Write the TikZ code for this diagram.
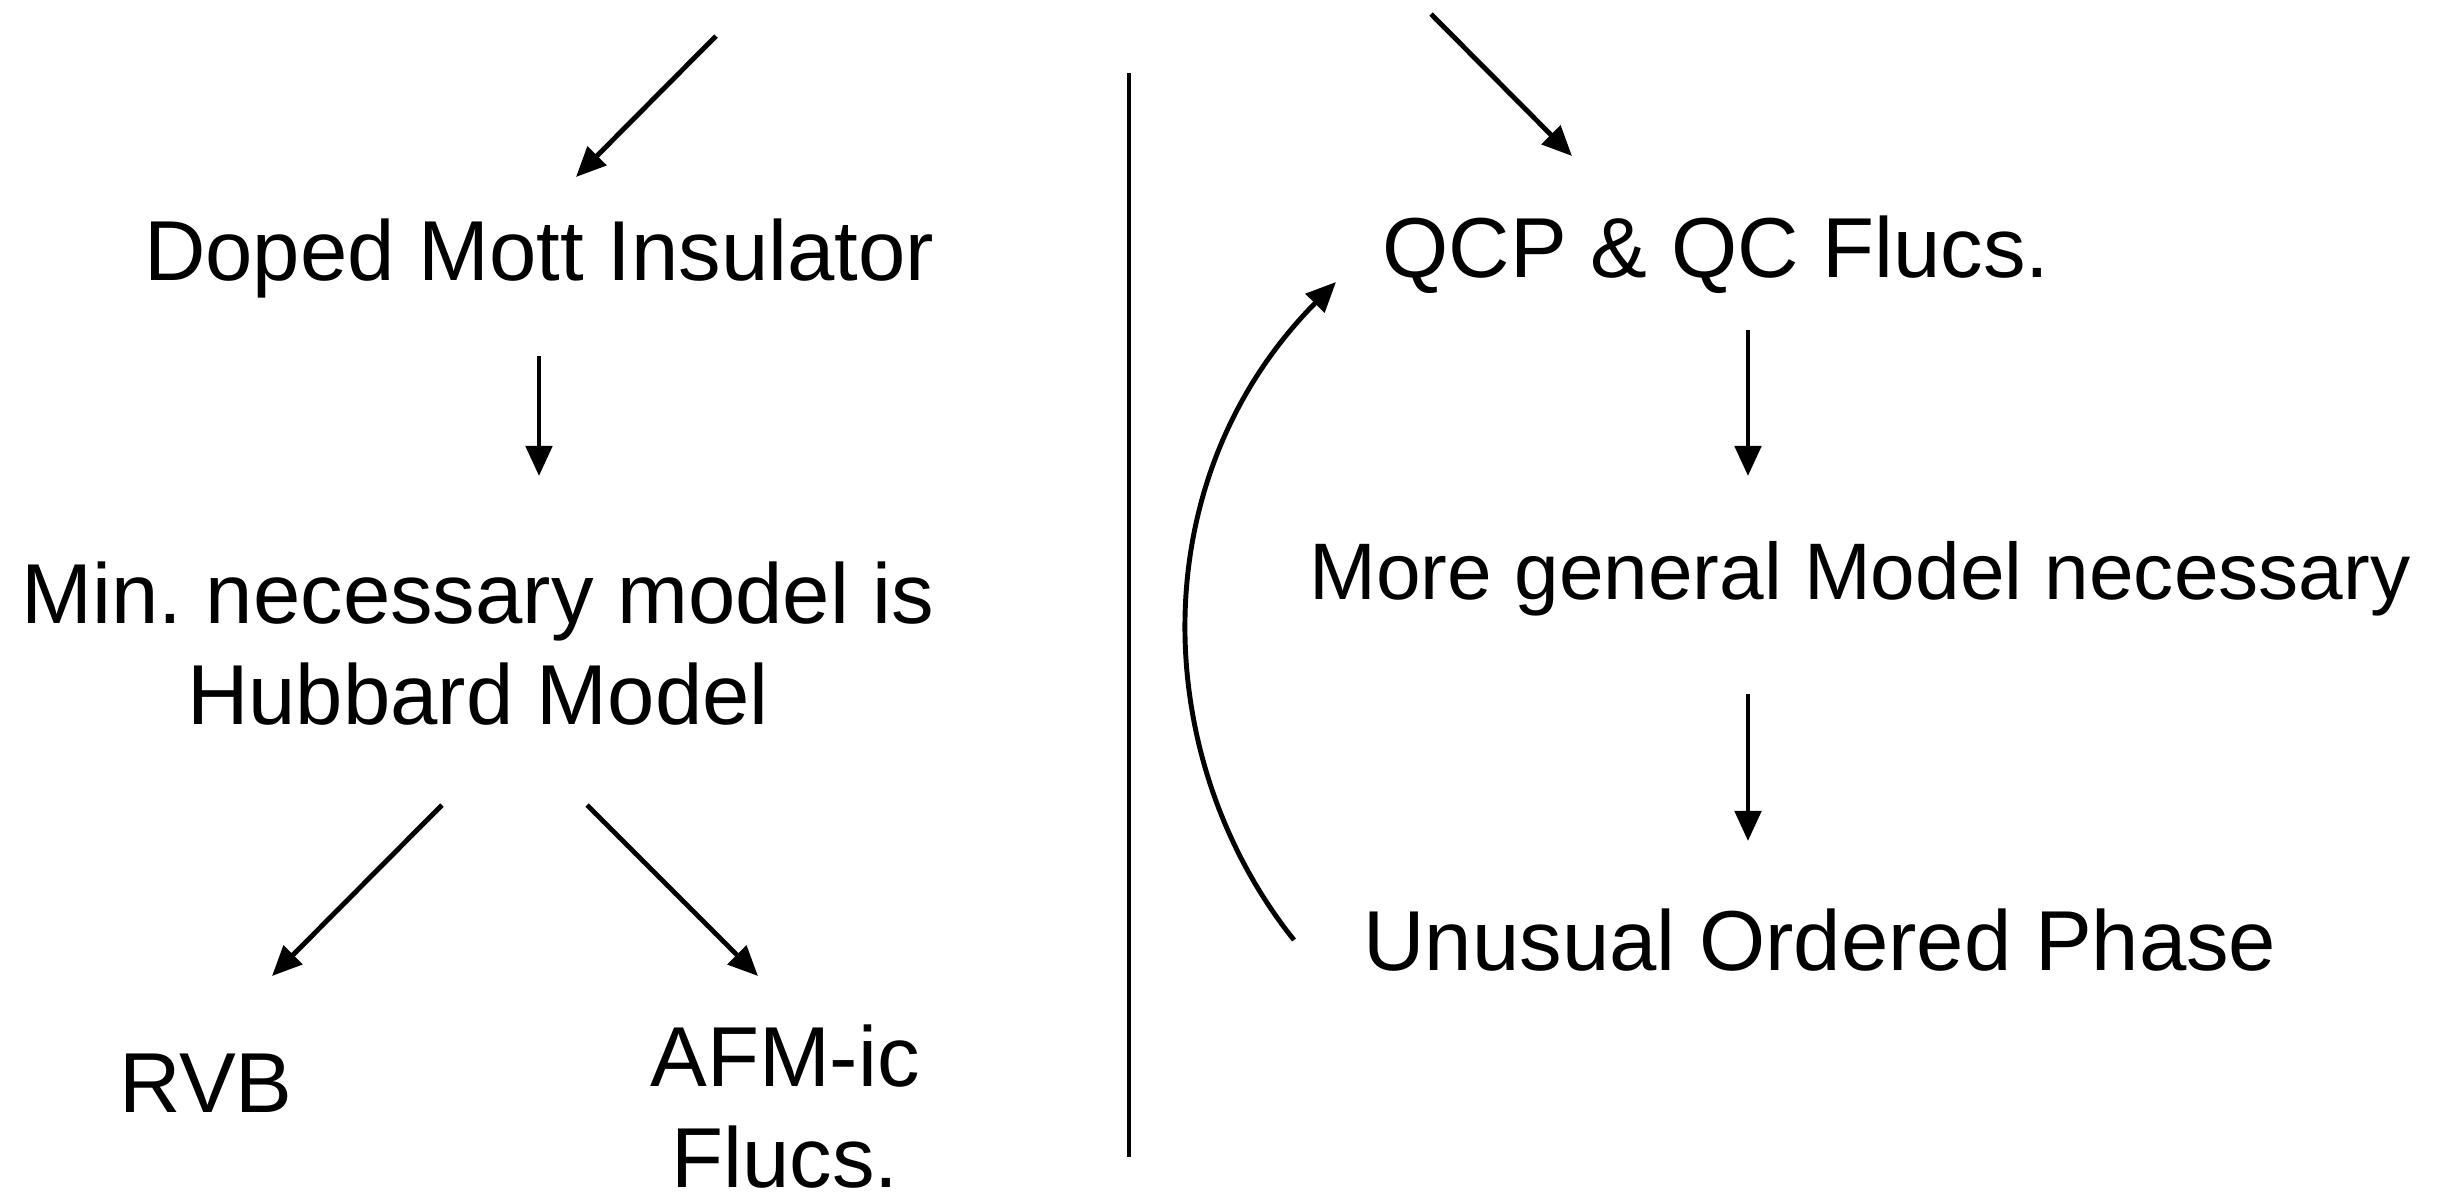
\documentclass[tikz,border=0pt]{standalone}
\usepackage{fontspec}
\setmainfont{Liberation Sans}
\usetikzlibrary{arrows.meta}
\frenchspacing
\begin{document}
\begin{tikzpicture}[x=0.01cm,y=-0.01cm,
  lbl/.style={inner sep=0pt,anchor=base,font=\fontsize{24.2pt}{28.5pt}\selectfont,align=center},
  lblsm/.style={lbl,font=\fontsize{22.8pt}{28.5pt}\selectfont},
  conn/.style={line width=1.4pt,-{Triangle[length=0.3cm,width=0.26cm]}},
  rule/.style={line width=1.4pt}]
\useasboundingbox (0,0) rectangle (2441,1196);
% left column (base anchor = last line)
\node[lbl] (dmi) at (539,280) {Doped Mott Insulator};
\node[lbl] (mnm) at (478,724) {Min.\ necessary model is\\Hubbard Model};
\node[lbl] (rvb) at (206,1112) {RVB};
\node[lbl] (afm) at (785,1187) {AFM-ic\\Flucs.};
% right column
\node[lbl] (qcp) at (1716,277) {QCP \& QC Flucs.};
\node[lblsm] (mgm) at (1860,599) {More general Model necessary};
\node[lbl] (uop) at (1820,970) {Unusual Ordered Phase};
% connector ends
\coordinate (a1s) at (716,36);   \coordinate (a1e) at (576,177);
\coordinate (a2s) at (539,356);  \coordinate (a2e) at (539,476);
\coordinate (a3s) at (442,805);  \coordinate (a3e) at (272,976);
\coordinate (a4s) at (587,805);  \coordinate (a4e) at (758,976);
\coordinate (a5s) at (1431,14);  \coordinate (a5e) at (1572,156);
\coordinate (a6s) at (1748,330); \coordinate (a6e) at (1748,476);
\coordinate (a7s) at (1748,694); \coordinate (a7e) at (1748,841);
\coordinate (a8s) at (1294,940); \coordinate (a8e) at (1336,282);
\coordinate (vt) at (1129,73);   \coordinate (vb) at (1129,1157);
% connectors
\draw[conn] (a1s) -- (a1e);
\draw[conn] (a2s) -- (a2e);
\draw[conn] (a3s) -- (a3e);
\draw[conn] (a4s) -- (a4e);
\draw[conn] (a5s) -- (a5e);
\draw[conn] (a6s) -- (a6e);
\draw[conn] (a7s) -- (a7e);
\draw[conn] (a8s) .. controls (1150,760) and (1140,480) .. (a8e);
\draw[rule] (vt) -- (vb);
\end{tikzpicture}
\end{document}
